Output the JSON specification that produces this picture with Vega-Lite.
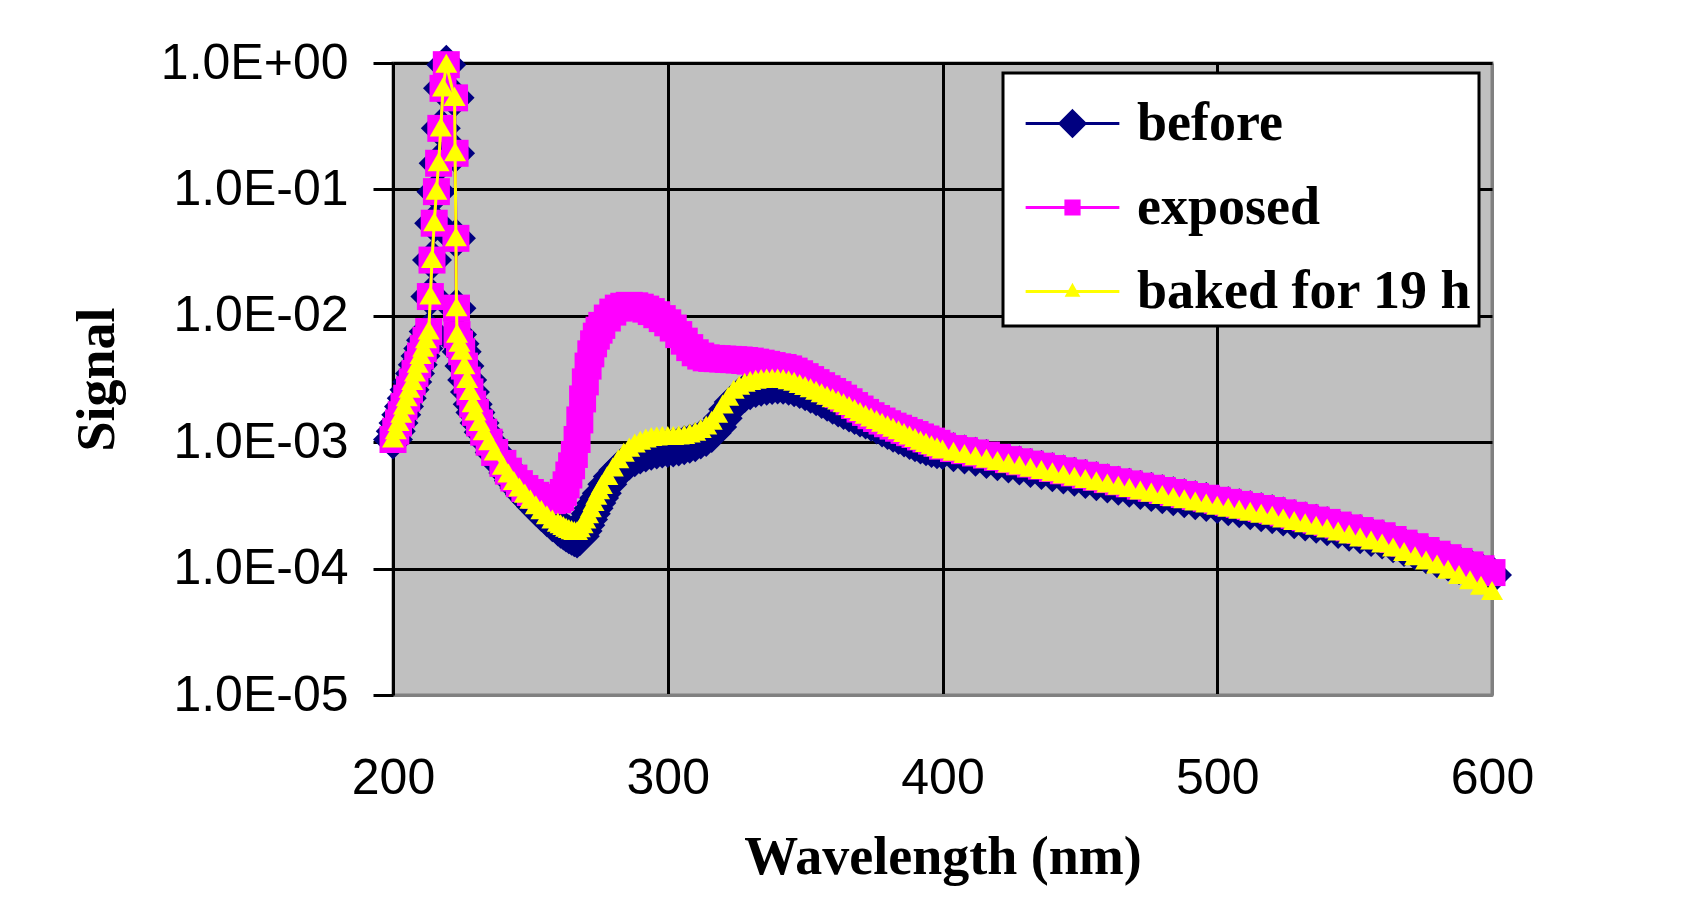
{
  "$schema": "https://vega.github.io/schema/vega-lite/v6.json",
  "autosize": {"type": "none"},
  "padding": {"left": 393, "top": 63, "right": 200, "bottom": 209},
  "width": 1099,
  "height": 632,
  "background": "white",
  "config": {
    "view": {"fill": "#C0C0C0", "stroke": "#808080", "strokeWidth": 3}
  },
  "data": {
    "values": [
      {"x":200,"before":0.00105,"exposed":0.00105,"baked for 19 h":0.00105},
      {"x":201,"before":0.00122,"exposed":0.00122,"baked for 19 h":0.00122},
      {"x":202,"before":0.00142,"exposed":0.00142,"baked for 19 h":0.00142},
      {"x":203,"before":0.00165,"exposed":0.00165,"baked for 19 h":0.00165},
      {"x":204,"before":0.00192,"exposed":0.00192,"baked for 19 h":0.00192},
      {"x":205,"before":0.00223,"exposed":0.00223,"baked for 19 h":0.00223},
      {"x":206,"before":0.0026,"exposed":0.0026,"baked for 19 h":0.0026},
      {"x":207,"before":0.003,"exposed":0.003,"baked for 19 h":0.003},
      {"x":208,"before":0.0035,"exposed":0.0035,"baked for 19 h":0.0035},
      {"x":209,"before":0.0041,"exposed":0.0041,"baked for 19 h":0.0041},
      {"x":210,"before":0.0048,"exposed":0.0048,"baked for 19 h":0.0048},
      {"x":211,"before":0.0055,"exposed":0.0055,"baked for 19 h":0.0055},
      {"x":212,"before":0.0064,"exposed":0.0064,"baked for 19 h":0.0064},
      {"x":213,"before":0.0075,"exposed":0.0075,"baked for 19 h":0.0075},
      {"x":213.6,"before":0.0142,"exposed":0.0142,"baked for 19 h":0.0142},
      {"x":214.2,"before":0.0276,"exposed":0.0276,"baked for 19 h":0.0276},
      {"x":215.0,"before":0.054,"exposed":0.054,"baked for 19 h":0.054},
      {"x":215.8,"before":0.096,"exposed":0.096,"baked for 19 h":0.096},
      {"x":216.6,"before":0.161,"exposed":0.161,"baked for 19 h":0.161},
      {"x":217.4,"before":0.304,"exposed":0.304,"baked for 19 h":0.304},
      {"x":218.2,"before":0.63,"exposed":0.63,"baked for 19 h":0.63},
      {"x":219.4,"before":0.97,"exposed":0.97,"baked for 19 h":0.97},
      {"x":222.4,"before":0.53,"exposed":0.53,"baked for 19 h":0.53},
      {"x":222.6,"before":0.193,"exposed":0.193,"baked for 19 h":0.193},
      {"x":222.9,"before":0.041,"exposed":0.041,"baked for 19 h":0.041},
      {"x":223.1,"before":0.0115,"exposed":0.0115,"baked for 19 h":0.0115},
      {"x":223.3,"before":0.0071,"exposed":0.0071,"baked for 19 h":0.0071},
      {"x":224.2,"before":0.006,"exposed":0.006,"baked for 19 h":0.006},
      {"x":225,"before":0.0052,"exposed":0.0052,"baked for 19 h":0.0052},
      {"x":226,"before":0.004,"exposed":0.004,"baked for 19 h":0.004},
      {"x":227,"before":0.0031,"exposed":0.0031,"baked for 19 h":0.0031},
      {"x":228,"before":0.0025,"exposed":0.0025,"baked for 19 h":0.0025},
      {"x":229,"before":0.002,"exposed":0.002,"baked for 19 h":0.002},
      {"x":230,"before":0.00172,"exposed":0.00172,"baked for 19 h":0.00172},
      {"x":231.5,"before":0.00142,"exposed":0.00142,"baked for 19 h":0.00142},
      {"x":233,"before":0.0012,"exposed":0.0012,"baked for 19 h":0.0012},
      {"x":235,"before":0.001,"exposed":0.001,"baked for 19 h":0.001},
      {"x":237,"before":0.00083,"exposed":0.00083,"baked for 19 h":0.00083},
      {"x":240,"before":0.00066,"exposed":0.00068,"baked for 19 h":0.00064},
      {"x":242,"before":0.00057,"exposed":0.00059,"baked for 19 h":0.000555},
      {"x":244,"before":0.000495,"exposed":0.00052,"baked for 19 h":0.000485},
      {"x":246,"before":0.000435,"exposed":0.00047,"baked for 19 h":0.00043},
      {"x":248,"before":0.000385,"exposed":0.00043,"baked for 19 h":0.000385},
      {"x":250,"before":0.000345,"exposed":0.0004,"baked for 19 h":0.000345},
      {"x":252,"before":0.00031,"exposed":0.00038,"baked for 19 h":0.000312},
      {"x":254,"before":0.00028,"exposed":0.00036,"baked for 19 h":0.000285},
      {"x":256,"before":0.000255,"exposed":0.00035,"baked for 19 h":0.00026},
      {"x":258,"before":0.000233,"exposed":0.000345,"baked for 19 h":0.00024},
      {"x":260,"before":0.000215,"exposed":0.00035,"baked for 19 h":0.000227},
      {"x":261,"before":0.000207,"exposed":0.000365,"baked for 19 h":0.00022},
      {"x":262,"before":0.0002,"exposed":0.0004,"baked for 19 h":0.000213},
      {"x":263,"before":0.000193,"exposed":0.00046,"baked for 19 h":0.000207},
      {"x":264,"before":0.000187,"exposed":0.00055,"baked for 19 h":0.000202},
      {"x":265,"before":0.000182,"exposed":0.00065,"baked for 19 h":0.000198},
      {"x":266,"before":0.000177,"exposed":0.0008,"baked for 19 h":0.000195},
      {"x":267,"before":0.000173,"exposed":0.00105,"baked for 19 h":0.000195},
      {"x":268,"before":0.00018,"exposed":0.0015,"baked for 19 h":0.000205},
      {"x":269,"before":0.000198,"exposed":0.0022,"baked for 19 h":0.00022},
      {"x":270,"before":0.00022,"exposed":0.003,"baked for 19 h":0.00024},
      {"x":271,"before":0.000245,"exposed":0.004,"baked for 19 h":0.000265},
      {"x":272,"before":0.000272,"exposed":0.005,"baked for 19 h":0.000295},
      {"x":273,"before":0.0003,"exposed":0.006,"baked for 19 h":0.00033},
      {"x":274,"before":0.00033,"exposed":0.0069,"baked for 19 h":0.00037},
      {"x":275,"before":0.000362,"exposed":0.0077,"baked for 19 h":0.00041},
      {"x":276,"before":0.000395,"exposed":0.0084,"baked for 19 h":0.00045},
      {"x":278,"before":0.000465,"exposed":0.0096,"baked for 19 h":0.00053},
      {"x":280,"before":0.000535,"exposed":0.0107,"baked for 19 h":0.00062},
      {"x":282,"before":0.0006,"exposed":0.0115,"baked for 19 h":0.00072},
      {"x":284,"before":0.00066,"exposed":0.0119,"baked for 19 h":0.00081},
      {"x":286,"before":0.000715,"exposed":0.0121,"baked for 19 h":0.00089},
      {"x":288,"before":0.00076,"exposed":0.012,"baked for 19 h":0.00096},
      {"x":290,"before":0.0008,"exposed":0.0117,"baked for 19 h":0.00101},
      {"x":292,"before":0.00083,"exposed":0.0113,"baked for 19 h":0.00105},
      {"x":294,"before":0.000855,"exposed":0.0108,"baked for 19 h":0.00108},
      {"x":296,"before":0.000875,"exposed":0.0102,"baked for 19 h":0.00109},
      {"x":298,"before":0.00089,"exposed":0.0095,"baked for 19 h":0.0011},
      {"x":300,"before":0.0009,"exposed":0.0088,"baked for 19 h":0.0011},
      {"x":302,"before":0.00091,"exposed":0.008,"baked for 19 h":0.0011},
      {"x":304,"before":0.000925,"exposed":0.0071,"baked for 19 h":0.00111},
      {"x":306,"before":0.000945,"exposed":0.0063,"baked for 19 h":0.00112},
      {"x":308,"before":0.00097,"exposed":0.0056,"baked for 19 h":0.00115},
      {"x":310,"before":0.001,"exposed":0.0051,"baked for 19 h":0.00119},
      {"x":312,"before":0.00105,"exposed":0.0048,"baked for 19 h":0.00125},
      {"x":314,"before":0.0011,"exposed":0.00465,"baked for 19 h":0.00133},
      {"x":316,"before":0.00118,"exposed":0.0046,"baked for 19 h":0.00145},
      {"x":318,"before":0.00132,"exposed":0.00458,"baked for 19 h":0.00165},
      {"x":320,"before":0.00155,"exposed":0.00455,"baked for 19 h":0.00195},
      {"x":322,"before":0.00182,"exposed":0.00452,"baked for 19 h":0.00225},
      {"x":324,"before":0.00208,"exposed":0.0045,"baked for 19 h":0.00255},
      {"x":326,"before":0.00228,"exposed":0.00447,"baked for 19 h":0.00275},
      {"x":328,"before":0.00245,"exposed":0.00443,"baked for 19 h":0.0029},
      {"x":330,"before":0.00258,"exposed":0.00438,"baked for 19 h":0.003},
      {"x":332,"before":0.00268,"exposed":0.0043,"baked for 19 h":0.00307},
      {"x":334,"before":0.00275,"exposed":0.00422,"baked for 19 h":0.00311},
      {"x":336,"before":0.0028,"exposed":0.00413,"baked for 19 h":0.00313},
      {"x":338,"before":0.00284,"exposed":0.00404,"baked for 19 h":0.00314},
      {"x":340,"before":0.00286,"exposed":0.00395,"baked for 19 h":0.00313},
      {"x":342,"before":0.00285,"exposed":0.0039,"baked for 19 h":0.0031},
      {"x":344,"before":0.0028,"exposed":0.0038,"baked for 19 h":0.00304},
      {"x":346,"before":0.00272,"exposed":0.00365,"baked for 19 h":0.00295},
      {"x":348,"before":0.00263,"exposed":0.00348,"baked for 19 h":0.00284},
      {"x":350,"before":0.00253,"exposed":0.0033,"baked for 19 h":0.00273},
      {"x":352,"before":0.00242,"exposed":0.00313,"baked for 19 h":0.00262},
      {"x":354,"before":0.00231,"exposed":0.00296,"baked for 19 h":0.00251},
      {"x":356,"before":0.0022,"exposed":0.0028,"baked for 19 h":0.0024},
      {"x":358,"before":0.00209,"exposed":0.00265,"baked for 19 h":0.00229},
      {"x":360,"before":0.00198,"exposed":0.00252,"baked for 19 h":0.00219},
      {"x":362,"before":0.00188,"exposed":0.00238,"baked for 19 h":0.0021},
      {"x":364,"before":0.0018,"exposed":0.00223,"baked for 19 h":0.002},
      {"x":366,"before":0.00172,"exposed":0.00209,"baked for 19 h":0.0019},
      {"x":368,"before":0.00164,"exposed":0.00195,"baked for 19 h":0.0018},
      {"x":370,"before":0.00157,"exposed":0.00183,"baked for 19 h":0.0017},
      {"x":372,"before":0.00151,"exposed":0.00172,"baked for 19 h":0.00162},
      {"x":374,"before":0.00145,"exposed":0.00162,"baked for 19 h":0.00154},
      {"x":376,"before":0.00138,"exposed":0.00154,"baked for 19 h":0.00147},
      {"x":378,"before":0.00131,"exposed":0.00147,"baked for 19 h":0.0014},
      {"x":380,"before":0.00125,"exposed":0.0014,"baked for 19 h":0.00134},
      {"x":382,"before":0.00119,"exposed":0.00134,"baked for 19 h":0.00128},
      {"x":384,"before":0.00114,"exposed":0.00129,"baked for 19 h":0.00122},
      {"x":386,"before":0.00109,"exposed":0.00124,"baked for 19 h":0.00116},
      {"x":388,"before":0.00104,"exposed":0.00119,"baked for 19 h":0.00111},
      {"x":390,"before":0.001,"exposed":0.00115,"baked for 19 h":0.00106},
      {"x":392,"before":0.00096,"exposed":0.0011,"baked for 19 h":0.00101},
      {"x":394,"before":0.00093,"exposed":0.00106,"baked for 19 h":0.00097},
      {"x":396,"before":0.0009,"exposed":0.00102,"baked for 19 h":0.00093},
      {"x":398,"before":0.00088,"exposed":0.00098,"baked for 19 h":0.000895},
      {"x":400,"before":0.000867,"exposed":0.00093,"baked for 19 h":0.000861},
      {"x":404,"before":0.000831,"exposed":0.000891,"baked for 19 h":0.000826},
      {"x":408,"before":0.0008,"exposed":0.000857,"baked for 19 h":0.000791},
      {"x":412,"before":0.000767,"exposed":0.000822,"baked for 19 h":0.000759},
      {"x":416,"before":0.000738,"exposed":0.000791,"baked for 19 h":0.000726},
      {"x":420,"before":0.000708,"exposed":0.000759,"baked for 19 h":0.000697},
      {"x":424,"before":0.000679,"exposed":0.000728,"baked for 19 h":0.000668},
      {"x":428,"before":0.000653,"exposed":0.0007,"baked for 19 h":0.000643},
      {"x":432,"before":0.000626,"exposed":0.000671,"baked for 19 h":0.000617},
      {"x":436,"before":0.000603,"exposed":0.000646,"baked for 19 h":0.000593},
      {"x":440,"before":0.000578,"exposed":0.000619,"baked for 19 h":0.000569},
      {"x":444,"before":0.000554,"exposed":0.000594,"baked for 19 h":0.000546},
      {"x":448,"before":0.000533,"exposed":0.000571,"baked for 19 h":0.000524},
      {"x":452,"before":0.000511,"exposed":0.000548,"baked for 19 h":0.000502},
      {"x":456,"before":0.000492,"exposed":0.000527,"baked for 19 h":0.000482},
      {"x":460,"before":0.000472,"exposed":0.000506,"baked for 19 h":0.000462},
      {"x":464,"before":0.000453,"exposed":0.000486,"baked for 19 h":0.000444},
      {"x":468,"before":0.000437,"exposed":0.000468,"baked for 19 h":0.000426},
      {"x":472,"before":0.000419,"exposed":0.000449,"baked for 19 h":0.000408},
      {"x":476,"before":0.000403,"exposed":0.000432,"baked for 19 h":0.000392},
      {"x":480,"before":0.000387,"exposed":0.000415,"baked for 19 h":0.000376},
      {"x":484,"before":0.000373,"exposed":0.0004,"baked for 19 h":0.000361},
      {"x":488,"before":0.00036,"exposed":0.000386,"baked for 19 h":0.000348},
      {"x":492,"before":0.000347,"exposed":0.000372,"baked for 19 h":0.000334},
      {"x":496,"before":0.000336,"exposed":0.00036,"baked for 19 h":0.000321},
      {"x":500,"before":0.000324,"exposed":0.000347,"baked for 19 h":0.000309},
      {"x":504,"before":0.000312,"exposed":0.000334,"baked for 19 h":0.000298},
      {"x":508,"before":0.0003,"exposed":0.000322,"baked for 19 h":0.000287},
      {"x":512,"before":0.000289,"exposed":0.00031,"baked for 19 h":0.000277},
      {"x":516,"before":0.000279,"exposed":0.000299,"baked for 19 h":0.000267},
      {"x":520,"before":0.000269,"exposed":0.000288,"baked for 19 h":0.000257},
      {"x":524,"before":0.000258,"exposed":0.000276,"baked for 19 h":0.000245},
      {"x":528,"before":0.000246,"exposed":0.000264,"baked for 19 h":0.000234},
      {"x":532,"before":0.000236,"exposed":0.000253,"baked for 19 h":0.000224},
      {"x":536,"before":0.000226,"exposed":0.000242,"baked for 19 h":0.000214},
      {"x":540,"before":0.000216,"exposed":0.000232,"baked for 19 h":0.000204},
      {"x":544,"before":0.000206,"exposed":0.000221,"baked for 19 h":0.000193},
      {"x":548,"before":0.000196,"exposed":0.00021,"baked for 19 h":0.000183},
      {"x":552,"before":0.000187,"exposed":0.0002,"baked for 19 h":0.000173},
      {"x":556,"before":0.000178,"exposed":0.000191,"baked for 19 h":0.000164},
      {"x":560,"before":0.00017,"exposed":0.000182,"baked for 19 h":0.000155},
      {"x":564,"before":0.000159,"exposed":0.00017,"baked for 19 h":0.000144},
      {"x":568,"before":0.000148,"exposed":0.000159,"baked for 19 h":0.000133},
      {"x":572,"before":0.000139,"exposed":0.000149,"baked for 19 h":0.000123},
      {"x":576,"before":0.00013,"exposed":0.000139,"baked for 19 h":0.000114},
      {"x":580,"before":0.000121,"exposed":0.00013,"baked for 19 h":0.000106},
      {"x":584,"before":0.000114,"exposed":0.000122,"baked for 19 h":0.0000962},
      {"x":588,"before":0.000107,"exposed":0.000114,"baked for 19 h":0.0000873},
      {"x":592,"before":0.000101,"exposed":0.000107,"baked for 19 h":0.0000793},
      {"x":596,"before":0.0000944,"exposed":0.0000998,"baked for 19 h":0.0000719},
      {"x":600,"before":0.000089,"exposed":0.000093,"baked for 19 h":0.0000653}
    ]
  },
  "transform": [
    {"fold": ["before", "exposed", "baked for 19 h"], "as": ["series", "signal"]}
  ],
  "encoding": {
    "x": {
      "field": "x", "type": "quantitative",
      "scale": {"domain": [200, 600], "nice": false, "zero": false},
      "axis": {
        "values": [200, 300, 400, 500, 600],
        "title": "Wavelength (nm)",
        "ticks": false, "tickSize": 0,
        "labelPadding": 58, "labelFont": "Liberation Sans", "labelFontSize": 50, "labelColor": "black", "labelFlush": false,
        "domainColor": "#808080", "domainWidth": 3,
        "grid": true, "gridWidth": 3,
        "gridColor": {"condition": {"test": "datum.value >= 599", "value": "#808080"}, "value": "black"},
        "titleFont": "Liberation Serif", "titleFontWeight": "bold", "titleFontSize": 54, "titleColor": "black", "titlePadding": 27
      }
    },
    "y": {
      "field": "signal", "type": "quantitative",
      "scale": {"type": "log", "domain": [0.00001, 1], "nice": false},
      "axis": {
        "values": [0.00001, 0.0001, 0.001, 0.01, 0.1, 1],
        "labelExpr": "'1.0E' + (datum.value < 0.99 ? '-' : '+') + '0' + abs(round(log(datum.value) / LN10))",
        "title": "Signal",
        "tickSize": 20, "tickWidth": 3, "tickColor": "black",
        "labelPadding": 25, "labelFont": "Liberation Sans", "labelFontSize": 50, "labelColor": "black", "labelFlush": false, "labelLimit": 400,
        "domainColor": "black", "domainWidth": 3,
        "grid": true, "gridWidth": 3,
        "gridColor": {"condition": {"test": "datum.value < 0.00002", "value": "#808080"}, "value": "black"},
        "titleFont": "Liberation Serif", "titleFontWeight": "bold", "titleFontSize": 54, "titleColor": "black", "titlePadding": 69
      }
    },
    "color": {
      "field": "series", "type": "nominal",
      "scale": {"domain": ["before", "exposed", "baked for 19 h"], "range": ["#000080", "#FF00FF", "#FFFF00"]},
      "legend": {
        "orient": "none", "legendX": 610, "legendY": 10, "title": " ", "titleFontSize": 1, "titlePadding": 8,
        "fillColor": "white", "strokeColor": "black", "padding": 7,
        "labelFont": "Liberation Serif", "labelFontWeight": "bold", "labelFontSize": 54, "labelColor": "black", "labelLimit": 600,
        "symbolSize": 4356, "symbolOffset": 28, "labelOffset": 30, "rowPadding": 22, "symbolStrokeWidth": 3,
        "encode": {
          "symbols": {"update": {
            "shape": {"signal": "datum.value === 'before' ? 'M-1.42,0H1.42M0,-0.38L0.38,0L0,0.38L-0.38,0Z' : datum.value === 'exposed' ? 'M-1.42,0H1.42M-0.2,-0.2H0.2V0.2H-0.2Z' : 'M-1.42,0H1.42M0,-0.17L0.16,0.11H-0.16Z'"},
            "fill": {"signal": "datum.value === 'before' ? '#000080' : datum.value === 'exposed' ? '#FF00FF' : '#FFFF00'"},
            "stroke": {"signal": "datum.value === 'before' ? '#000080' : datum.value === 'exposed' ? '#FF00FF' : '#FFFF00'"},
            "strokeWidth": {"value": 3},
            "opacity": {"value": 1}
          }},
          "legend": {"update": {"strokeWidth": {"value": 3}}}
        }
      }
    }
  },
  "layer": [
    {"transform": [{"filter": "datum.series === 'before'"}], "mark": {"type": "line", "strokeWidth": 3}},
    {"transform": [{"filter": "datum.series === 'before'"}], "mark": {"type": "point", "shape": "M0,-1L1,0L0,1L-1,0Z", "size": 1600, "filled": true, "opacity": 1}},
    {"transform": [{"filter": "datum.series === 'exposed'"}], "mark": {"type": "line", "strokeWidth": 3}},
    {"transform": [{"filter": "datum.series === 'exposed'"}], "mark": {"type": "point", "shape": "M-1,-1H1V1H-1Z", "size": 729, "filled": true, "opacity": 1}},
    {"transform": [{"filter": "datum.series === 'baked for 19 h'"}], "mark": {"type": "line", "strokeWidth": 3}},
    {"transform": [{"filter": "datum.series === 'baked for 19 h'"}], "mark": {"type": "point", "shape": "M0,-1L1,0.73H-1Z", "size": 484, "filled": true, "opacity": 1}}
  ]
}
